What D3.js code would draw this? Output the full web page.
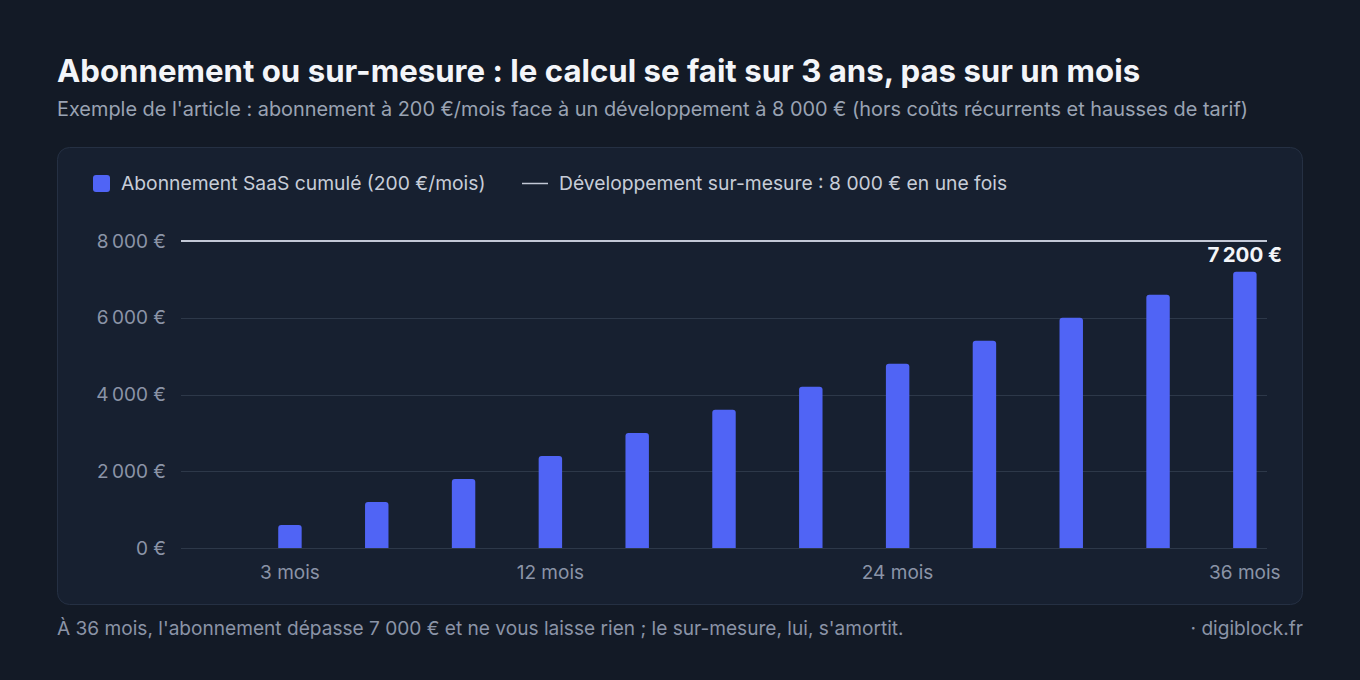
<!DOCTYPE html>
<html lang="fr">
<head>
<meta charset="utf-8">
<script src="https://cdn.jsdelivr.net/npm/d3@7"></script>
<style>
  html, body { margin: 0; padding: 0; background: #131a26; }
  svg { display: block; font-family: Inter, "Noto Sans", sans-serif; }
</style>
</head>
<body>
<svg id="chart"></svg>
<script>
// months on the x axis (0 = start, one bar every 3 months)
var months = [0, 3, 6, 9, 12, 15, 18, 21, 24, 27, 30, 33, 36];
// cumulated subscription cost, 200 €/month
var saasCost = [0, 600, 1200, 1800, 2400, 3000, 3600, 4200, 4800, 5400, 6000, 6600, 7200];
// one-off custom development
var customCost = 8000;
var yTicks = [0, 2000, 4000, 6000, 8000];
var xTickMonths = [3, 12, 24, 36];

var titleText = "Abonnement ou sur-mesure : le calcul se fait sur 3 ans, pas sur un mois";
var subtitleText = "Exemple de l'article : abonnement à 200 €/mois face à un développement à 8 000 € (hors coûts récurrents et hausses de tarif)";
var footText = "À 36 mois, l'abonnement dépasse 7 000 € et ne vous laisse rien ; le sur-mesure, lui, s'amortit.";
var sourceText = "· digiblock.fr";
var legendBars = "Abonnement SaaS cumulé (200 €/mois)";
var legendLine = "Développement sur-mesure : 8 000 € en une fois";

var width = 1360, height = 680;
var svg = d3.select("#chart").attr("width", width).attr("height", height);

//background
svg.append("rect").attr("width", width).attr("height", height).style("fill", "#131a26");

//titles
svg.append("text").attr("x", 57).attr("y", 82)
  .style("font-size", "31.2px").style("font-weight", 700).style("fill", "#f3f5f9")
  .text(titleText);
svg.append("text").attr("x", 57).attr("y", 116)
  .style("font-size", "19.9px").style("fill", "#9aa3b3")
  .text(subtitleText);

//card holding the chart
svg.append("rect")
  .attr("x", 57.5).attr("y", 147.5).attr("width", 1245).attr("height", 457)
  .attr("rx", 12).attr("ry", 12)
  .style("fill", "#172030").style("stroke", "#253043");

//legend
svg.append("rect").attr("x", 93).attr("y", 175).attr("width", 17).attr("height", 17)
  .attr("rx", 3).style("fill", "#5064f5");
svg.append("text").attr("x", 121).attr("y", 190)
  .style("font-size", "19.3px").style("fill", "#c7cdd8").text(legendBars);
svg.append("line").attr("x1", 522).attr("x2", 548).attr("y1", 183.5).attr("y2", 183.5)
  .style("stroke", "#c3c8d6").style("stroke-width", 1.5);
svg.append("text").attr("x", 559).attr("y", 190)
  .style("font-size", "19.3px").style("fill", "#c7cdd8").text(legendLine);

//scales
var x = d3.scaleBand()
  .domain(months)
  .range([181, 1267])
  .paddingInner(0.73)
  .paddingOuter(0.12);

var y = d3.scaleLinear()
  .domain([0, 8000])
  .range([548, 241]);

var fmt = function (v) {
  return d3.format(",")(v).replace(/,/g, "\u202f") + " €";
};

//grid lines
svg.append("g").selectAll("line")
  .data(yTicks)
  .enter().append("line")
  .attr("x1", 181).attr("x2", 1267)
  .attr("y1", function (d) { return Math.round(y(d)) + 0.5; })
  .attr("y2", function (d) { return Math.round(y(d)) + 0.5; })
  .style("stroke", "#2d3849").style("stroke-width", 1);

//y tick labels
svg.append("g").selectAll("text")
  .data(yTicks)
  .enter().append("text")
  .attr("x", 166).attr("y", function (d) { return y(d); })
  .attr("dy", "0.35em").attr("text-anchor", "end")
  .style("font-size", "19px").style("fill", "#8b94a7")
  .text(fmt);

//bars with rounded top corners
var r = 3;
svg.append("g").selectAll("path")
  .data(months.map(function (m, i) { return {m: m, v: saasCost[i]}; }).filter(function (d) { return d.v > 0; }))
  .enter().append("path")
  .style("fill", "#5064f5")
  .attr("d", function (d) {
    var x0 = x(d.m), w = x.bandwidth(), y0 = y(d.v), y1 = y(0);
    return "M" + x0 + "," + y1 +
      "V" + (y0 + r) + "Q" + x0 + "," + y0 + " " + (x0 + r) + "," + y0 +
      "H" + (x0 + w - r) + "Q" + (x0 + w) + "," + y0 + " " + (x0 + w) + "," + (y0 + r) +
      "V" + y1 + "Z";
  });

//custom development line
svg.append("line")
  .attr("x1", 181).attr("x2", 1267)
  .attr("y1", y(customCost)).attr("y2", y(customCost))
  .style("stroke", "#c3c8d6").style("stroke-width", 2);

//value label on the last bar
var last = months.length - 1;
svg.append("text")
  .attr("x", x(months[last]) + x.bandwidth() / 2)
  .attr("y", y(saasCost[last]) - 10)
  .attr("text-anchor", "middle")
  .style("font-size", "20.5px").style("font-weight", 700).style("fill", "#f3f5f9")
  .text(fmt(saasCost[last]));

//x tick labels
svg.append("g").selectAll("text")
  .data(xTickMonths)
  .enter().append("text")
  .attr("x", function (d) { return x(d) + x.bandwidth() / 2; })
  .attr("y", 579)
  .attr("text-anchor", "middle")
  .style("font-size", "19px").style("fill", "#8b94a7")
  .text(function (d) { return d + " mois"; });

//footer
svg.append("text").attr("x", 57).attr("y", 635)
  .style("font-size", "19.1px").style("fill", "#8b94a7").text(footText);
svg.append("text").attr("x", 1303).attr("y", 635).attr("text-anchor", "end")
  .style("font-size", "19.1px").style("fill", "#8b94a7").text(sourceText);
</script>
</body>
</html>
